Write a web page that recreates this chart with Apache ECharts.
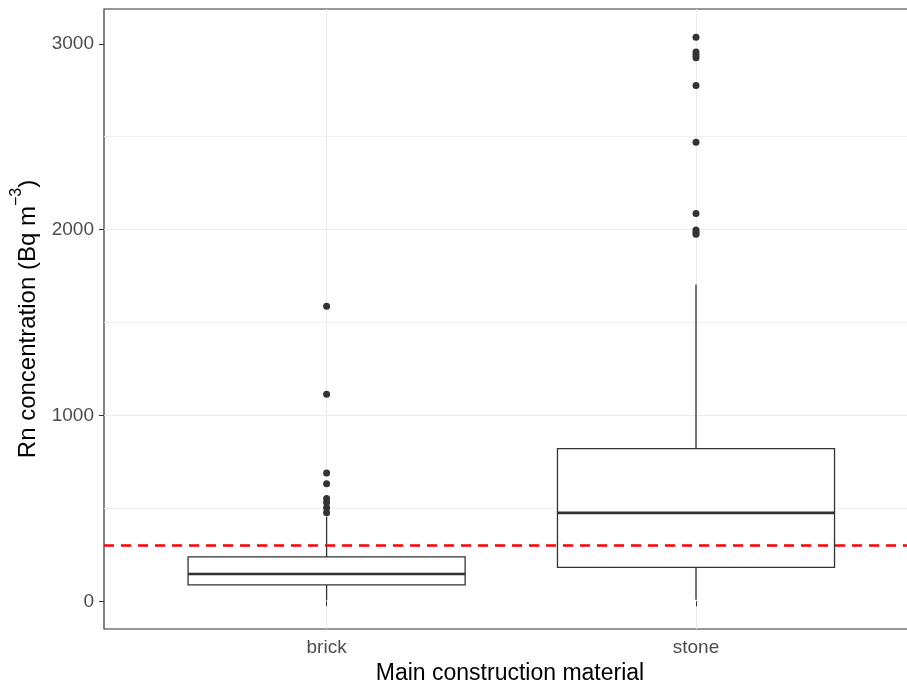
<!DOCTYPE html>
<html>

<head>
  <meta charset="utf-8">
  <title>Rn concentration by construction material</title>
  <script src="https://cdn.jsdelivr.net/npm/echarts@6/dist/echarts.min.js"></script>
</head>

<body style="margin:0">
  <div id="main" style="width: 907px;height:687px;"></div>
  <script type="text/javascript">
    var myChart = echarts.init(document.getElementById('main'));

    // box summaries, one entry per material
    var categories = ['brick', 'stone'];
    var whiskerLow = [5, 9];
    var lowerQuartile = [88, 183];
    var medians = [147, 476];
    var upperQuartile = [239, 822];
    var whiskerHigh = [455, 1704];

    // outliers
    var brickOutliers = [1588, 1114, 691, 633, 553, 531, 504, 476];
    var stoneOutliers = [3035, 2955, 2940, 2925, 2776, 2470, 2087, 1998, 1985, 1975];

    var yTicks = [0, 1000, 2000, 3000];
    var threshold = 300;
    var yMin = -149;
    var yMax = 3187;

    var boxData = categories.map(function (c, i) {
      return [i, whiskerLow[i], lowerQuartile[i], medians[i], upperQuartile[i], whiskerHigh[i]];
    });

    var outlierData = [];
    brickOutliers.forEach(function (v) { outlierData.push([0, v]); });
    stoneOutliers.forEach(function (v) { outlierData.push([1, v]); });

    function renderBox(params, api) {
      var x = api.value(0);
      var half = api.size([1, 0])[0] * 0.375;
      var lo = api.coord([x, api.value(1)]);
      var q1 = api.coord([x, api.value(2)]);
      var md = api.coord([x, api.value(3)]);
      var q3 = api.coord([x, api.value(4)]);
      var hi = api.coord([x, api.value(5)]);
      var line = { stroke: '#333', lineWidth: 1.3 };
      return {
        type: 'group',
        children: [
          { type: 'line', shape: { x1: lo[0], y1: lo[1], x2: q1[0], y2: q1[1] }, style: line },
          { type: 'line', shape: { x1: q3[0], y1: q3[1], x2: hi[0], y2: hi[1] }, style: line },
          {
            type: 'rect',
            shape: { x: q3[0] - half, y: q3[1], width: half * 2, height: q1[1] - q3[1] },
            style: { fill: '#fff', stroke: '#333', lineWidth: 1.3 }
          },
          {
            type: 'line',
            shape: { x1: md[0] - half, y1: md[1], x2: md[0] + half, y2: md[1] },
            style: { stroke: '#333', lineWidth: 2.6 }
          }
        ]
      };
    }

    var option = {
      animation: false,
      textStyle: { fontFamily: 'Liberation Sans, Arial, sans-serif' },
      grid: [
        { left: 104, top: 9, width: 812, height: 620, outerBoundsMode: 'none', show: true, borderColor: '#333', borderWidth: 1.2, backgroundColor: 'transparent' },
        { left: 326.6, top: 9, width: 369.4, height: 620, outerBoundsMode: 'none' }
      ],
      xAxis: [
        {
          gridIndex: 0,
          type: 'value',
          min: 0,
          max: 1,
          axisLine: { show: false },
          axisTick: { show: false },
          axisLabel: { show: false },
          splitLine: { show: false },
          name: 'Main construction material',
          nameLocation: 'middle',
          nameGap: 33,
          nameTextStyle: { fontSize: 23, color: '#000' }
        },
        {
          gridIndex: 1,
          type: 'category',
          data: categories,
          boundaryGap: false,
          axisLine: { show: false },
          axisTick: { show: true, length: 5, lineStyle: { color: '#333' } },
          axisLabel: { fontSize: 19, color: '#4D4D4D', margin: 9 },
          splitLine: { show: true, lineStyle: { color: '#ebebeb' } }
        }
      ],
      yAxis: [
        {
          gridIndex: 0,
          type: 'value',
          min: yMin,
          max: yMax,
          splitNumber: 3,
          axisLine: { show: false },
          axisTick: { show: true, length: 5, customValues: yTicks, lineStyle: { color: '#333' } },
          axisLabel: {
            fontSize: 19,
            color: '#4D4D4D',
            margin: 10,
            customValues: yTicks,
            formatter: function (v) { return String(v); }
          },
          minorTick: { show: false, splitNumber: 2 },
          minorSplitLine: { show: true, lineStyle: { color: '#f0f0f0' } },
          splitLine: { show: true, showMinLine: false, showMaxLine: false, lineStyle: { color: '#ebebeb' } },
          name: '{t|Rn concentration (Bq m}{s|−3}{t|)}',
          nameLocation: 'middle',
          nameGap: 58,
          nameTextStyle: {
            color: '#000',
            rich: {
              t: { fontSize: 24, color: '#000', padding: [8, 0, 0, 0], verticalAlign: 'bottom' },
              s: { fontSize: 16, color: '#000', verticalAlign: 'top' }
            }
          }
        },
        {
          gridIndex: 1,
          type: 'value',
          min: yMin,
          max: yMax,
          show: false,
          splitLine: { show: false }
        }
      ],
      series: [
        {
          type: 'custom',
          xAxisIndex: 1,
          yAxisIndex: 1,
          renderItem: renderBox,
          data: boxData,
          z: 2
        },
        {
          type: 'scatter',
          xAxisIndex: 1,
          yAxisIndex: 1,
          symbolSize: 7,
          itemStyle: { color: '#333', opacity: 1 },
          data: outlierData,
          z: 3
        },
        {
          type: 'line',
          xAxisIndex: 0,
          yAxisIndex: 0,
          data: [],
          z: 5,
          markLine: {
            silent: true,
            symbol: ['none', 'none'],
            label: { show: false },
            lineStyle: { color: '#ff0000', type: [10, 7], width: 2.5 },
            data: [{ yAxis: threshold }]
          }
        }
      ]
    };

    myChart.setOption(option);
  </script>
</body>

</html>
